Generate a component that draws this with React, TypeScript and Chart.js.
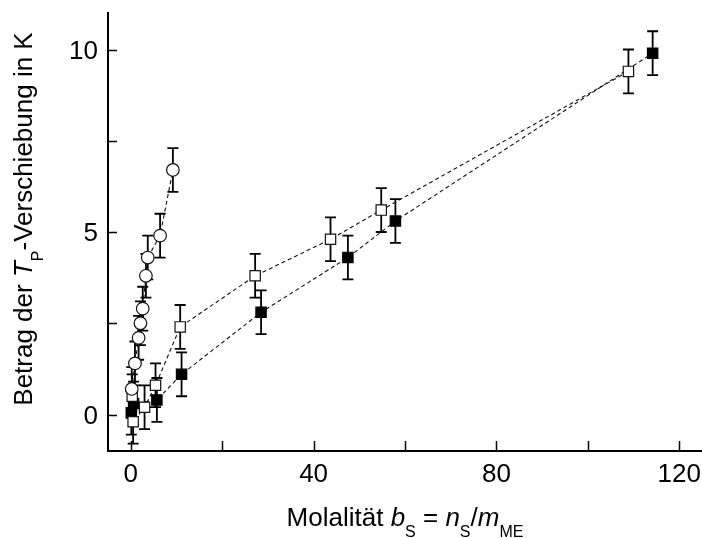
import React, { useEffect, useRef } from 'react';
import { Chart, registerables } from 'chart.js';

Chart.register(...registerables);

// ---- data ----
const circleX = [0.2, 0.9, 1.7, 2.1, 2.6, 3.3, 3.7, 6.4, 9.2];
const circleY = [0.7, 1.4, 2.1, 2.5, 2.9, 3.8, 4.3, 4.9, 6.7];
const circleErr = [0.6, 0.6, 0.6, 0.6, 0.6, 0.6, 0.6, 0.6, 0.6];

const openSqX = [0.3, 0.5, 3.0, 5.4, 10.8, 27.2, 43.7, 54.8, 108.9];
const openSqY = [0.5, -0.2, 0.2, 0.8, 2.4, 3.8, 4.8, 5.6, 9.4];
const openSqErr = [0.6, 0.6, 0.6, 0.6, 0.6, 0.6, 0.6, 0.6, 0.6];

const fillSqX = [0.1, 0.6, 5.7, 11.1, 28.5, 47.5, 57.9, 114.2];
const fillSqY = [0.05, 0.3, 0.4, 1.1, 2.8, 4.3, 5.3, 9.9];
const fillSqErr = [0.6, 0.6, 0.6, 0.6, 0.6, 0.6, 0.6, 0.6];

const xTickValues = [0, 20, 40, 60, 80, 100, 120];
const xTickLabels = [0, 40, 80, 120];
const yTickValues = [0, 2.5, 5, 7.5, 10];
const yTickLabels = [0, 5, 10];

const xMin = -5;
const xMax = 125;
const yMin = -1;
const yMax = 11;

type Seg = { t: string; it?: boolean; sub?: boolean };
const yTitle: Seg[] = [
  { t: 'Betrag der ' },
  { t: 'T', it: true },
  { t: 'P', sub: true },
  { t: '-Verschiebung in K' },
];
const xTitle: Seg[] = [
  { t: 'Molalität ' },
  { t: 'b', it: true },
  { t: 'S', sub: true },
  { t: ' = ' },
  { t: 'n', it: true },
  { t: 'S', sub: true },
  { t: '/' },
  { t: 'm', it: true },
  { t: 'ME', sub: true },
];

// ---- styling ----
const FONT = '"Liberation Sans", Arial, Helvetica, sans-serif';
const MAIN_PX = 26;
const SUB_PX = 16;
const SUB_DROP = 11;
const TICK_PX = 26;

const toPts = (xs: number[], ys: number[]) => xs.map((x, i) => ({ x, y: ys[i] }));

function segFont(s: Seg) {
  return `${s.it ? 'italic ' : ''}${s.sub ? SUB_PX : MAIN_PX}px ${FONT}`;
}

function drawRich(ctx: CanvasRenderingContext2D, segs: Seg[], cx: number, baseline: number) {
  const widths = segs.map((s) => {
    ctx.font = segFont(s);
    return ctx.measureText(s.t).width;
  });
  const total = widths.reduce((a, b) => a + b, 0);
  let x = cx - total / 2;
  ctx.textAlign = 'left';
  ctx.textBaseline = 'alphabetic';
  segs.forEach((s, i) => {
    ctx.font = segFont(s);
    ctx.fillText(s.t, x, baseline + (s.sub ? SUB_DROP : 0));
    x += widths[i];
  });
}

const errSets = [circleErr, openSqErr, fillSqErr];
const ySets = [circleY, openSqY, fillSqY];

const overlayPlugin = {
  id: 'overlay',
  beforeDatasetsDraw(chart: any) {
    const ctx: CanvasRenderingContext2D = chart.ctx;
    const ys = chart.scales.y;
    ctx.save();
    ctx.strokeStyle = '#000';
    ctx.lineWidth = 1.8;
    errSets.forEach((errs, di) => {
      const meta = chart.getDatasetMeta(di);
      meta.data.forEach((pt: any, j: number) => {
        const v = ySets[di][j];
        const e = errs[j];
        const x = pt.x;
        const y1 = ys.getPixelForValue(v + e);
        const y2 = ys.getPixelForValue(v - e);
        ctx.beginPath();
        ctx.moveTo(x, y1);
        ctx.lineTo(x, y2);
        ctx.moveTo(x - 5.5, y1);
        ctx.lineTo(x + 5.5, y1);
        ctx.moveTo(x - 5.5, y2);
        ctx.lineTo(x + 5.5, y2);
        ctx.stroke();
      });
    });
    ctx.restore();
  },
  afterDraw(chart: any) {
    const ctx: CanvasRenderingContext2D = chart.ctx;
    const xs = chart.scales.x;
    const ys = chart.scales.y;
    const area = chart.chartArea;
    ctx.save();
    // inward ticks
    ctx.strokeStyle = '#000';
    ctx.lineWidth = 1.5;
    ctx.beginPath();
    xTickValues.forEach((v) => {
      const px = Math.round(xs.getPixelForValue(v)) + 0.5;
      ctx.moveTo(px, area.bottom);
      ctx.lineTo(px, area.bottom - 10);
    });
    yTickValues.forEach((v) => {
      const py = Math.round(ys.getPixelForValue(v)) + 0.5;
      ctx.moveTo(area.left, py);
      ctx.lineTo(area.left + 9, py);
    });
    ctx.stroke();

    // tick labels
    ctx.fillStyle = '#000';
    ctx.font = `${TICK_PX}px ${FONT}`;
    ctx.textBaseline = 'alphabetic';
    ctx.textAlign = 'center';
    xTickLabels.forEach((v) => {
      ctx.fillText(String(v), xs.getPixelForValue(v), area.bottom + 31);
    });
    ctx.textAlign = 'right';
    yTickLabels.forEach((v) => {
      ctx.fillText(String(v), area.left - 10, ys.getPixelForValue(v) + 9);
    });

    // axis titles
    drawRich(ctx, xTitle, (area.left + area.right) / 2, 526);
    ctx.save();
    ctx.translate(32, 219);
    ctx.rotate(-Math.PI / 2);
    drawRich(ctx, yTitle, 0, 0);
    ctx.restore();

    ctx.restore();
  },
};

export default function App() {
  const ref = useRef<HTMLCanvasElement | null>(null);

  useEffect(() => {
    if (!ref.current) return;
    const lineCommon = {
      showLine: true,
      borderColor: '#111',
      borderWidth: 1.1,
      borderDash: [4, 3],
      pointBorderColor: '#111',
      pointBorderWidth: 1.2,
      pointHoverRadius: 0,
    };
    const chart = new Chart(ref.current, {
      type: 'scatter',
      data: {
        datasets: [
          {
            ...lineCommon,
            label: 'circles',
            data: toPts(circleX, circleY),
            pointStyle: 'circle',
            pointRadius: 6.3,
            pointBackgroundColor: '#fff',
          },
          {
            ...lineCommon,
            label: 'open squares',
            data: toPts(openSqX, openSqY),
            pointStyle: 'rect',
            pointRadius: 7.3,
            pointBackgroundColor: '#fff',
          },
          {
            ...lineCommon,
            label: 'filled squares',
            data: toPts(fillSqX, fillSqY),
            pointStyle: 'rect',
            pointRadius: 7.3,
            pointBackgroundColor: '#000',
            pointBorderColor: '#000',
          },
        ],
      },
      options: {
        responsive: false,
        animation: false,
        devicePixelRatio: 1,
        layout: { autoPadding: false, padding: { top: 13, left: 0, right: 0, bottom: 0 } },
        plugins: {
          legend: { display: false },
          tooltip: { enabled: false },
        },
        events: [],
        scales: {
          x: {
            type: 'linear',
            min: xMin,
            max: xMax,
            ticks: { display: false },
            grid: { display: false, drawTicks: false },
            border: { display: true, color: '#000', width: 2 },
            afterFit: (s: any) => {
              s.height = 87;
            },
          },
          y: {
            type: 'linear',
            min: yMin,
            max: yMax,
            ticks: { display: false },
            grid: { display: false, drawTicks: false },
            border: { display: true, color: '#000', width: 2 },
            afterFit: (s: any) => {
              s.width = 108;
            },
          },
        },
      } as any,
      plugins: [overlayPlugin],
    });
    return () => chart.destroy();
  }, []);

  return (
    <div style={{ position: 'absolute', left: 0, top: 0, width: 702, height: 538, background: '#fff' }}>
      <canvas ref={ref} width={702} height={538} style={{ display: 'block' }} />
    </div>
  );
}
